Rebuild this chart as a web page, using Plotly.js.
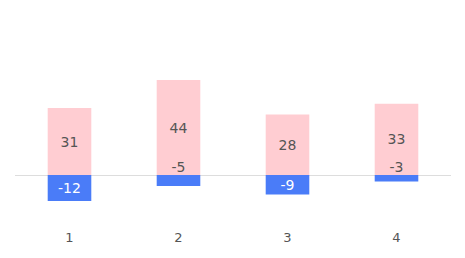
<!DOCTYPE html>
<html><head><meta charset="utf-8">
<script src="https://cdn.plot.ly/plotly-3.0.1.min.js"></script>
<style>html,body{margin:0;padding:0;background:#fff}#chart{width:465px;height:258px}</style>
</head><body><div id="chart"></div>
<script>
const categories = ["1", "2", "3", "4"];
const positiveValues = [31, 44, 28, 33];
const negativeValues = [-12, -5, -9, -3];

// labels of short negative bars sit above the zero line
const isSmall = negativeValues.map(v => Math.abs(v) < 8);

const traces = [
  {type: "bar", x: categories, y: positiveValues, text: positiveValues.map(String),
   textposition: "inside", insidetextanchor: "middle", constraintext: "none", textangle: 0,
   insidetextfont: {color: "#555", size: 14},
   marker: {color: "#ffcdd2"}, hoverinfo: "none"},
  {type: "bar", x: categories, y: negativeValues,
   text: negativeValues.map((v, i) => isSmall[i] ? "" : String(v)),
   textposition: "inside", insidetextanchor: "middle", constraintext: "none", textangle: 0,
   insidetextfont: {color: "#ffffff", size: 14},
   marker: {color: "#4a7cf8"}, hoverinfo: "none"},
  {type: "scatter", mode: "text", x: categories, y: negativeValues.map(() => 0),
   text: negativeValues.map((v, i) => isSmall[i] ? String(v) : ""),
   textposition: "top center", textfont: {color: "#555", size: 14},
   marker: {size: 1}, hoverinfo: "none", cliponaxis: false}
];
const layout = {
  width: 465, height: 258,
  barmode: "relative", bargap: 0.6,
  showlegend: false,
  font: {family: "DejaVu Sans, Verdana, sans-serif", size: 13, color: "#555"},
  margin: {l: 15, r: 14, t: 20, b: 30},
  paper_bgcolor: "#fff", plot_bgcolor: "#fff",
  xaxis: {type: "category", showgrid: false, showline: false, ticks: "", tickfont: {color: "#555", size: 13}},
  yaxis: {range: [-24.5, 71.8], showgrid: false, showticklabels: false, zeroline: true,
          zerolinecolor: "#dddddd", zerolinewidth: 1}
};
Plotly.newPlot("chart", traces, layout, {displayModeBar: false, staticPlot: true});
</script></body></html>
